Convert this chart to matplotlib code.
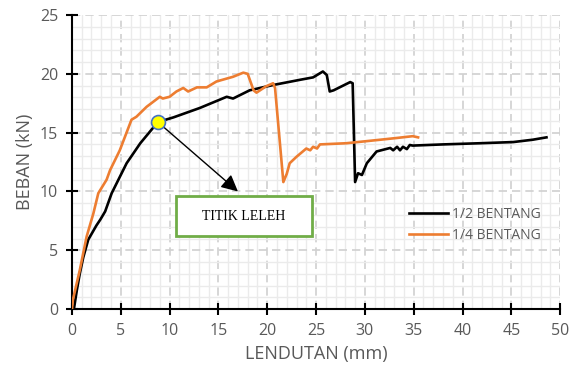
import matplotlib.pyplot as plt
from matplotlib.patches import Rectangle
from matplotlib.ticker import MultipleLocator

# lendutan (mm) / beban (kN) - 1/2 bentang
x_half = [0.0, 0.2, 0.5, 0.8, 1.16, 1.67, 2.5, 2.9, 3.4, 4.07, 4.7, 5.6, 7.0, 8.3, 8.8,
          10.4, 13.1, 15.85, 16.5, 18.2, 20.6, 23.4, 24.7, 25.7, 26.1, 26.4, 26.8,
          28.5, 28.75, 29.0, 29.3, 29.7, 30.2, 31.2, 32.6, 32.9, 33.3, 33.6, 33.9,
          34.3, 34.6, 34.9, 38.0, 41.8, 45.2, 47.2, 48.6]
y_half = [0.0, 0.0, 1.6, 3.0, 4.4, 5.9, 7.1, 7.6, 8.3, 9.85, 10.9, 12.4, 14.1, 15.4, 15.9,
          16.3, 17.1, 18.05, 17.9, 18.6, 19.05, 19.5, 19.7, 20.2, 19.9, 18.5, 18.6,
          19.3, 19.2, 10.8, 11.55, 11.4, 12.4, 13.4, 13.7, 13.5, 13.8, 13.5, 13.8,
          13.6, 13.95, 13.9, 14.0, 14.1, 14.2, 14.4, 14.6]

# lendutan (mm) / beban (kN) - 1/4 bentang
x_quarter = [0.0, 0.1, 0.8, 1.5, 2.2, 2.7, 3.55, 3.9, 4.9, 6.1, 6.6, 7.65, 9.0, 9.3,
             10.0, 10.7, 11.4, 11.9, 12.8, 13.8, 14.8, 16.5, 17.55, 18.0, 18.6, 18.9,
             19.9, 20.6, 20.8, 21.65, 22.0, 22.3, 23.0, 24.0, 24.4, 24.7, 25.1, 25.4,
             28.1, 31.6, 33.3, 34.9, 35.45]
y_quarter = [0.0, 0.8, 3.3, 6.15, 8.15, 9.85, 11.0, 11.8, 13.5, 16.1, 16.35, 17.2, 18.05, 17.9,
             18.05, 18.5, 18.8, 18.5, 18.85, 18.85, 19.35, 19.75, 20.1, 20.0, 18.6, 18.4,
             18.95, 19.2, 18.8, 10.8, 11.5, 12.4, 12.95, 13.65, 13.5, 13.8, 13.65, 14.0,
             14.1, 14.4, 14.55, 14.7, 14.6]

yield_x, yield_y = 8.8, 15.9
gray = '#595959'

fig = plt.figure(figsize=(5.71, 3.76), dpi=100)
ax = fig.add_axes([0.126, 0.178, 0.855, 0.782])

ax.plot(x_half, y_half, color='black', lw=1.9, label='1/2 BENTANG', zorder=3)
ax.plot(x_quarter, y_quarter, color='#ED7D31', lw=1.9, label='1/4 BENTANG', zorder=3)

ax.set_xlim(0, 50)
ax.set_ylim(0, 25)
ax.xaxis.set_major_locator(MultipleLocator(5))
ax.yaxis.set_major_locator(MultipleLocator(5))
ax.xaxis.set_minor_locator(MultipleLocator(1))
ax.yaxis.set_minor_locator(MultipleLocator(1))
ax.grid(which='minor', color='#EBEBEB', lw=1, ls='-', zorder=0)
ax.grid(which='major', color='#D0D0D0', lw=1.2, ls=(0, (5, 3)), zorder=1)
ax.tick_params(which='minor', length=0)
ax.tick_params(which='major', direction='inout', length=8, width=1.5,
               colors='black', labelcolor=gray, labelsize=11.5, pad=6)
ax.set_axisbelow(True)

for side in ['top', 'right']:
    ax.spines[side].set_visible(False)
for side in ['left', 'bottom']:
    ax.spines[side].set_linewidth(1.5)

ax.set_xlabel('LENDUTAN (mm)', color=gray, fontsize=13, family='Open Sans')
ax.set_ylabel('BEBAN (kN)', color=gray, fontsize=13, family='Open Sans')
for lbl in ax.get_xticklabels() + ax.get_yticklabels():
    lbl.set_family('Open Sans')

# titik leleh
ax.annotate('', xy=(17.0, 10.0), xytext=(yield_x, yield_y),
            arrowprops=dict(arrowstyle='-|>,head_length=1.0,head_width=0.5',
                            color='black', lw=1, shrinkA=0, shrinkB=0), zorder=4)
ax.plot([yield_x], [yield_y], 'o', ms=10, mfc='#FFFF00', mec='#4472C4', mew=1.2, zorder=5)
ax.add_patch(Rectangle((10.65, 6.2), 13.95, 3.4, facecolor='white',
                       edgecolor='#70AD47', lw=2, zorder=4))
ax.text(17.6, 7.9, 'TITIK LELEH', ha='center', va='center', fontsize=10,
        family='Liberation Serif', zorder=5)

leg = ax.legend(loc='upper left', bbox_to_anchor=(0.665, 0.39), frameon=False,
                handlelength=2.8, handletextpad=0.3, labelspacing=0.45,
                prop={'family': 'Open Sans', 'size': 10})
for t in leg.get_texts():
    t.set_color(gray)

fig.savefig('out.png', dpi=100)
